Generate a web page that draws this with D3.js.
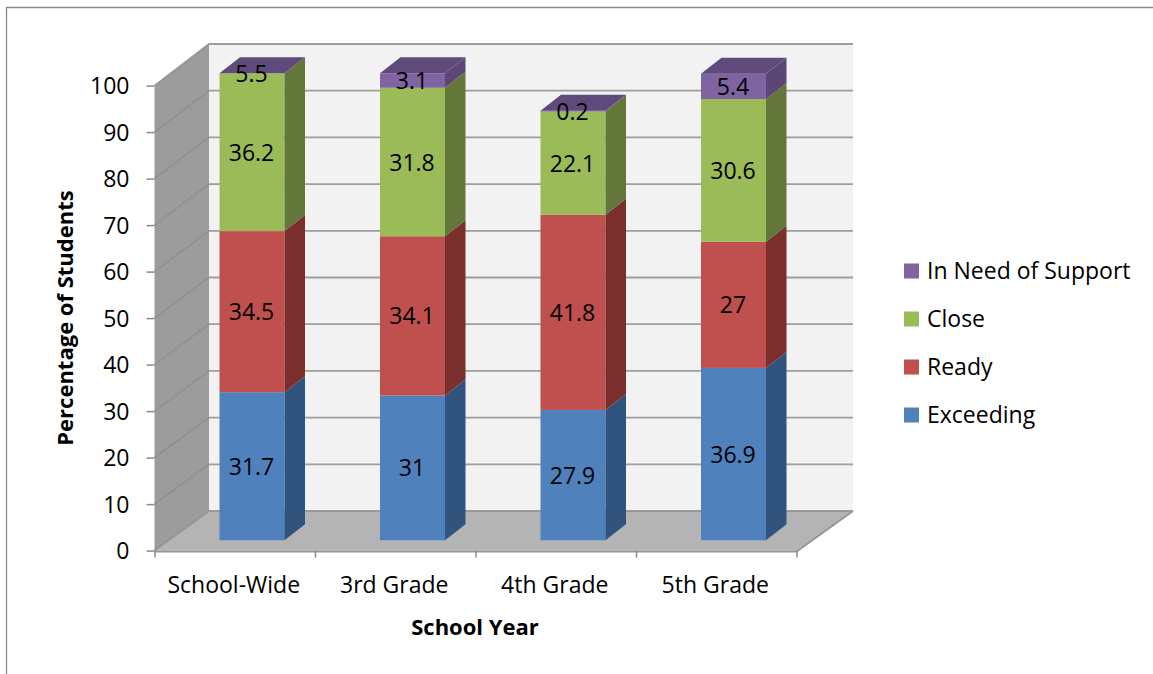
<!DOCTYPE html>
<html>
<head>
<meta charset="utf-8">
<script src="https://cdn.jsdelivr.net/npm/d3@7"></script>
<style>
  html, body { margin: 0; padding: 0; background: #fff; }
  svg { display: block; }
  text { font-family: "Open Sans", Lato, sans-serif; fill: #000; }
</style>
</head>
<body>
<svg id="chart" width="1153" height="674"></svg>
<script>
const categories = ["School-Wide", "3rd Grade", "4th Grade", "5th Grade"];
const seriesNames = ["Exceeding", "Ready", "Close", "In Need of Support"];
const exceeding = [31.7, 31, 27.9, 36.9];
const ready = [34.5, 34.1, 41.8, 27];
const close = [36.2, 31.8, 22.1, 30.6];
const needSupport = [5.5, 3.1, 0.2, 5.4];
const seriesValues = [exceeding, ready, close, needSupport];
const yTicks = d3.range(0, 101, 10);

const frontColors = ["#4f81bd", "#c0504d", "#9bbb59", "#8064a2"];
const sideColors = ["#31547f", "#7b2f2d", "#64773a", "#5b4676"];
const topColors = ["#3f6797", "#9a403d", "#7c9647", "#604a7b"];

const svg = d3.select("#chart");

// Front plane of the axes and the receding back wall.
const y = d3.scaleLinear().domain([0, 100]).range([550.6, 85.6]);
const yBack = d3.scaleLinear().domain([0, 100]).range([511, 44]);
const yBar = d3.scaleLinear().domain([0, 100]).range([540.2, 73.3]).clamp(true);
const x = d3.scaleBand().domain(categories).range([154.5, 796.5]);
const backLeft = 209, backRight = 853;
const barOffset = 65, barWidth = 65, depthX = 20.5, depthY = 16;

const poly = pts => pts.map(p => p.join(",")).join(" ");

// Outer chart frame, open towards the right and bottom.
svg.append("path")
  .attr("d", d3.line()([[6.5, 674], [6.5, 7.5], [1153, 7.5]]))
  .attr("fill", "none").attr("stroke", "#8a8a8a").attr("stroke-width", 1.3);

// Walls and floor
svg.append("rect").attr("x", backLeft).attr("y", yBack(100))
  .attr("width", backRight - backLeft).attr("height", yBack(0) - yBack(100))
  .attr("fill", "#f2f2f2");
svg.append("polygon")
  .attr("points", poly([[x.range()[0], y(0)], [backLeft, yBack(0)], [backLeft, yBack(100)], [x.range()[0], y(100)]]))
  .attr("fill", "#9c9c9c");
svg.append("polygon")
  .attr("points", poly([[x.range()[0], y(0)], [x.range()[1], y(0)], [backRight, yBack(0)], [backLeft, yBack(0)]]))
  .attr("fill", "#b4b4b4");

// Gridlines bend at the corner between side wall and back wall.
svg.append("g").selectAll("path").data(yTicks).join("path")
  .attr("d", t => d3.line()([[x.range()[0], y(t)], [backLeft, yBack(t)], [backRight, yBack(t)]]))
  .attr("fill", "none").attr("stroke", "#8f8f8f").attr("stroke-width", 1.8).attr("opacity", 0.85);

// Floor front edge and the edge leading back on the right.
svg.append("path")
  .attr("d", d3.line()([[x.range()[0], y(0) + 1], [x.range()[1], y(0) + 1], [backRight, yBack(0)]]))
  .attr("fill", "none").attr("stroke", "#969696").attr("stroke-width", 2);

// Stacked columns, cut off at the top of the axis.
categories.forEach((cat, i) => {
  const left = x(cat) + barOffset, right = left + barWidth;
  const g = svg.append("g");
  let total = 0;
  const segs = seriesValues.map((vals, s) => {
    const start = total;
    total += vals[i];
    return { s, value: vals[i], y0: yBar(start), y1: yBar(total) };
  });
  segs.forEach(d => {
    g.append("rect").attr("x", left).attr("y", d.y1).attr("width", barWidth)
      .attr("height", d.y0 - d.y1).attr("fill", frontColors[d.s]);
    g.append("polygon")
      .attr("points", poly([[right, d.y0], [right, d.y1], [right + depthX, d.y1 - depthY], [right + depthX, d.y0 - depthY]]))
      .attr("fill", sideColors[d.s]);
  });
  const top = segs[segs.length - 1];
  g.append("polygon")
    .attr("points", poly([[left, top.y1], [right, top.y1], [right + depthX, top.y1 - depthY], [left + depthX, top.y1 - depthY]]))
    .attr("fill", topColors[top.s]);
  segs.forEach(d => {
    g.append("text").attr("x", (left + right) / 2 - 0.5).attr("y", (d.y0 + d.y1) / 2 + 8.5)
      .attr("text-anchor", "middle").attr("font-size", 23).text(d.value);
  });
});

// Axes
const yAxis = d3.axisLeft(y).tickValues(yTicks).tickSize(8).tickPadding(17);
const yG = svg.append("g").attr("transform", `translate(${x.range()[0]},0)`).call(yAxis);
const edges = [...categories.map(c => x(c)), x.range()[1]];
const xTickScale = d3.scaleIdentity().domain(x.range());
const xG = svg.append("g").attr("transform", `translate(0,${y(0)})`)
  .call(d3.axisBottom(xTickScale).tickValues(edges).tickSize(7).tickFormat(""));
[yG, xG].forEach(a => {
  a.select(".domain").remove();
  a.selectAll("line").attr("stroke", "#8a8a8a").attr("stroke-width", 1.5);
});
yG.selectAll("text").attr("font-size", 23).attr("font-family", "Open Sans").attr("fill", "#000").attr("dy", "0.36em");

svg.append("g").selectAll("text").data(categories).join("text")
  .attr("x", c => x(c) + x.bandwidth() / 2 - 1).attr("y", 593)
  .attr("text-anchor", "middle").attr("font-size", 23).text(c => c);

// Axis titles
svg.append("text").attr("x", 475).attr("y", 634.5).attr("text-anchor", "middle")
  .attr("font-size", 22).attr("font-weight", 700).text("School Year");
svg.append("text").attr("transform", "translate(72.5,318) rotate(-90)").attr("text-anchor", "middle")
  .attr("font-size", 22).attr("font-weight", 700).text("Percentage of Students");

// Legend, newest series on top
const legendY = d3.scalePoint().domain(seriesNames.slice().reverse()).range([271, 415]);
const legend = svg.append("g").selectAll("g").data(seriesNames).join("g")
  .attr("transform", n => `translate(904,${legendY(n)})`);
legend.append("rect").attr("x", 0).attr("y", -7.5).attr("width", 15).attr("height", 15)
  .attr("fill", (n, i) => frontColors[i]);
legend.append("text").attr("x", 23).attr("y", 8).attr("font-size", 23).text(n => n);
</script>
</body>
</html>
